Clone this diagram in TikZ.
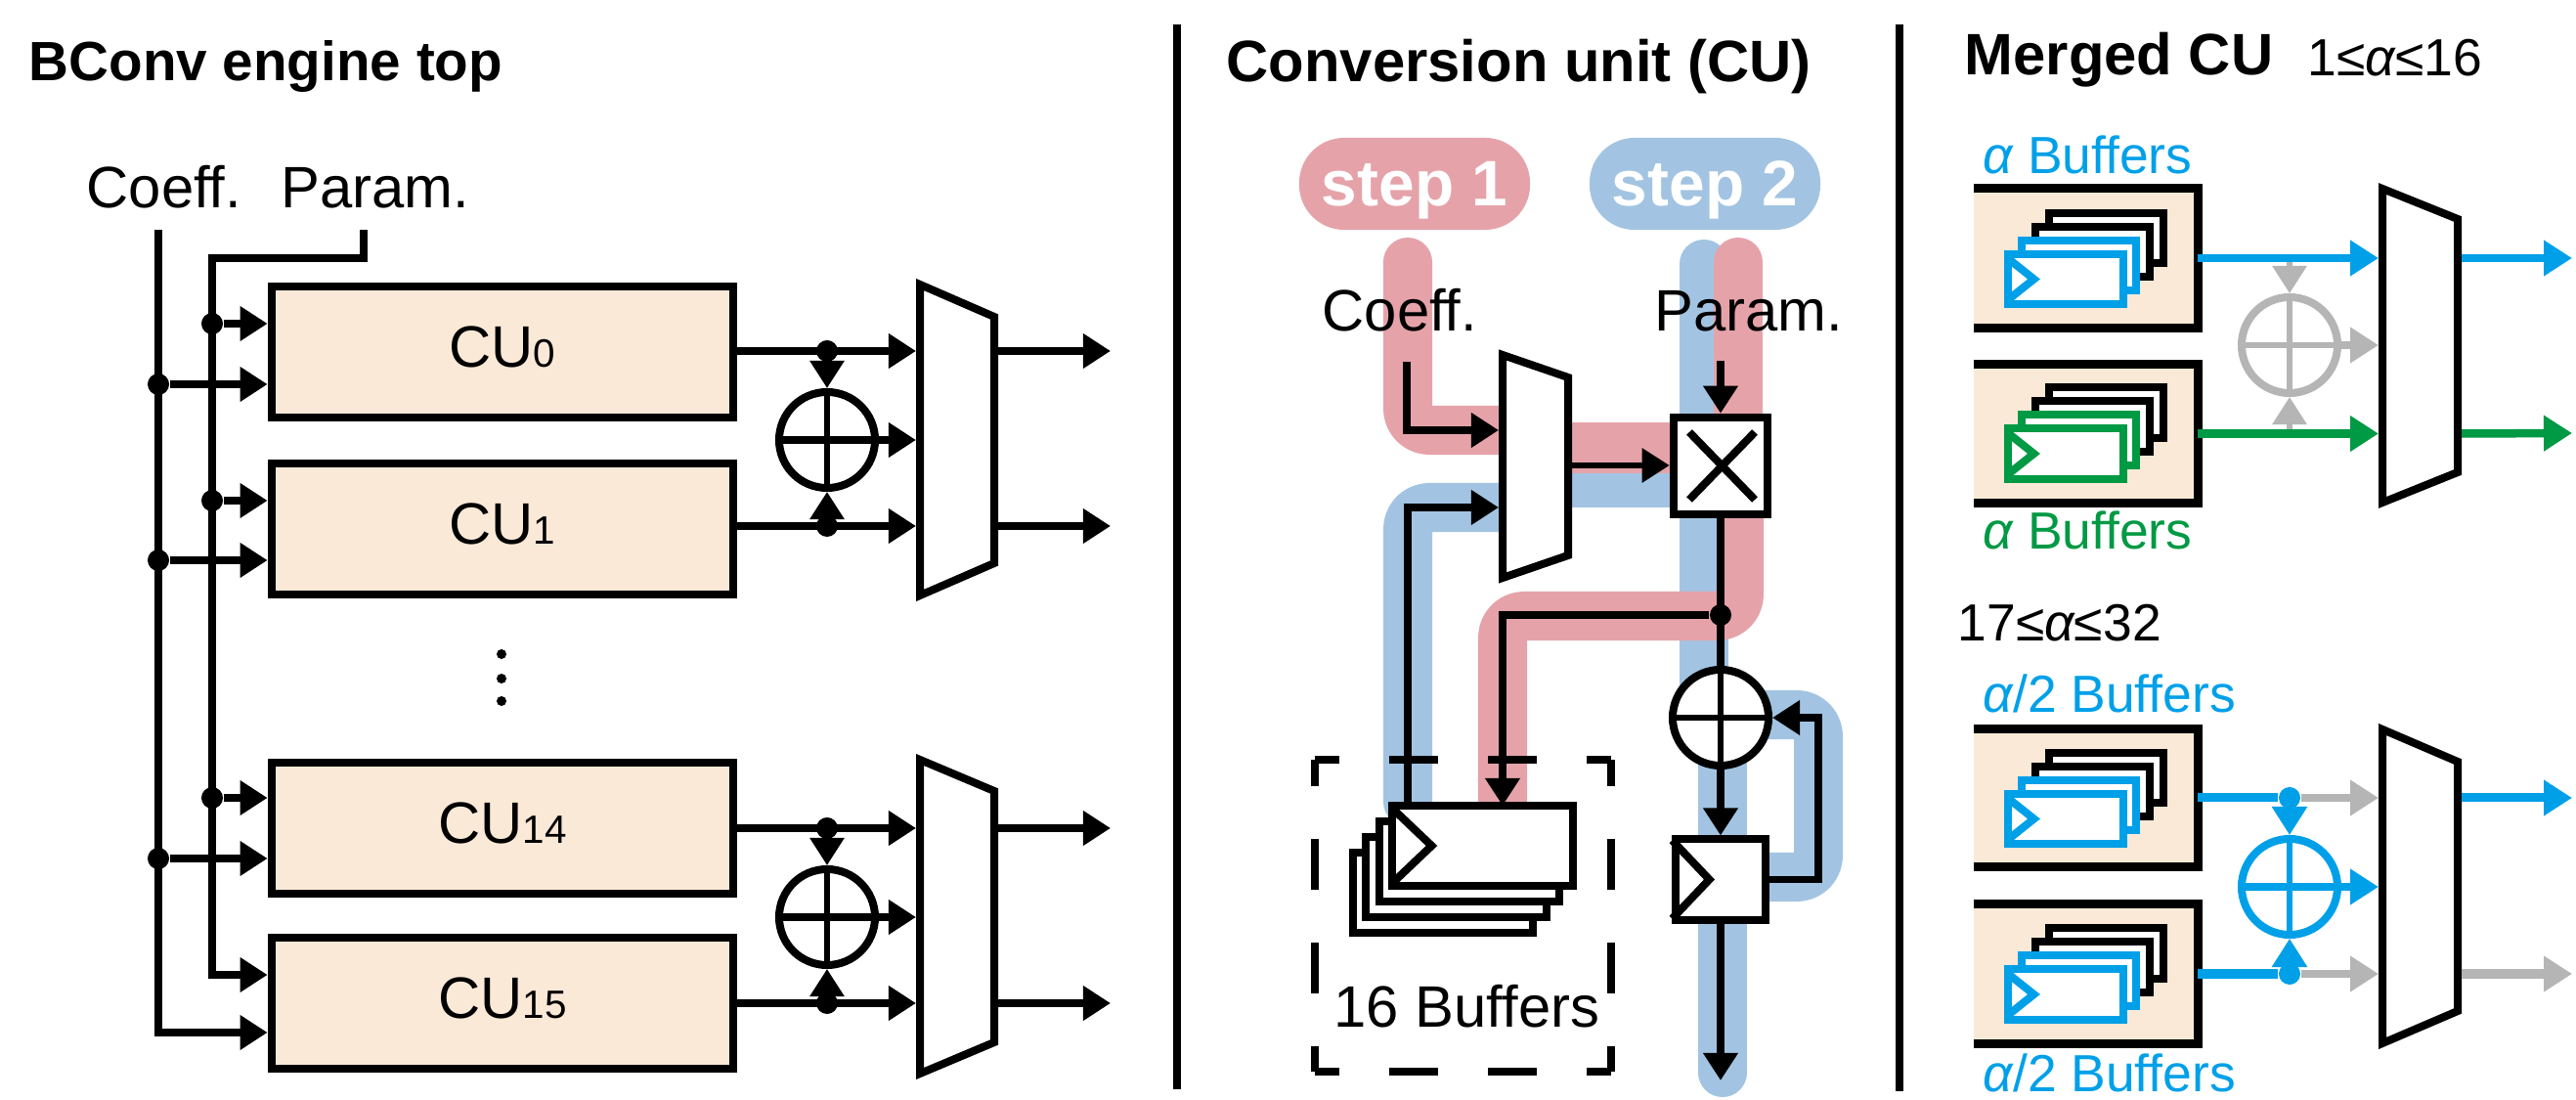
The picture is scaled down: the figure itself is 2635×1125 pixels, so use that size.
\documentclass[tikz,border=0pt]{standalone}
\usepackage{fontspec}
\setmainfont{Liberation Sans}
\usetikzlibrary{arrows.meta,calc}
\definecolor{cream}{HTML}{FBE9D7}
\definecolor{hlpink}{HTML}{E5A3A9}
\definecolor{hlblue}{HTML}{A2C4E2}
\definecolor{cyanx}{HTML}{00A0E9}
\definecolor{greenx}{HTML}{009944}
\definecolor{grayx}{HTML}{B5B5B5}
\newcommand{\cusub}[1]{{\fontsize{11.5}{12}\selectfont #1}}
\newcommand{\muxdraw}[6]{%
  \pgfmathsetmacro\mw{(#3-#2)*0.01}%
  \pgfmathsetmacro\mh{(#5-#4)*0.01}%
  \node[muxn,minimum width=\mw cm,minimum height=\mh cm] (#1) at ({(#2+#3)/2},{(#4+#5)/2}) {};
  \draw[muxline] (#2,#4) -- (#3,{#4+#6}) -- (#3,{#5-#6}) -- (#2,#5) -- cycle;
}
\newcommand{\bufstack}[9]{%
  \node[buf,draw=#8,minimum width=#4,minimum height=#5] (#1d) at ({#2+3*(#6)},{#3+3*(#7)}) {};
  \node[buf,draw=#8,minimum width=#4,minimum height=#5] (#1c) at ({#2+2*(#6)},{#3+2*(#7)}) {};
  \node[buf,draw=#9,minimum width=#4,minimum height=#5] (#1b) at ({#2+#6},{#3+#7}) {};
  \node[buf,draw=#9,minimum width=#4,minimum height=#5] (#1a) at (#2,#3) {};
}
\newcommand{\clocktri}[4]{%
  \draw[#2,line width=0.08cm] ($(#1.north west)+(0,#4)$) -- ($(#1.west)+(#3,0)$) -- ($(#1.south west)+(0,-#4)$);
}
\tikzset{
  x=0.01cm,y=-0.01cm,
  wire/.style={line width=0.075cm,draw=black},
  thinw/.style={line width=0.06cm,draw=black},
  arw/.style={-{Triangle[length=0.28cm,width=0.34cm]}},
  arwb/.style={-{Triangle[length=0.29cm,width=0.35cm]}},
  cubox/.style={draw=black,fill=cream,line width=0.085cm,minimum width=4.72cm,minimum height=1.34cm,inner sep=0pt,text height=0.3cm,text depth=0pt,font=\fontsize{17}{20}\selectfont},
  lab/.style={inner sep=0pt,anchor=base west,font=\fontsize{17}{20}\selectfont},
  boldlab/.style={inner sep=0pt,anchor=base west,font=\fontsize{17}{20}\selectfont\bfseries},
  alab/.style={inner sep=0pt,anchor=base west,font=\fontsize{15.2}{18}\selectfont},
  jdot/.style={circle,fill=black,inner sep=0pt,minimum size=0.22cm},
  vdot/.style={circle,fill=black,inner sep=0pt,minimum size=0.1cm},
  addn/.style={circle,draw=black,fill=white,line width=0.08cm,minimum size=0.98cm,inner sep=0pt},
  muxn/.style={inner sep=0pt,outer xsep=0.04cm,outer ysep=0pt},
  muxline/.style={draw=black,fill=white,line width=0.08cm},
  buf/.style={fill=white,line width=0.08cm,inner sep=0pt,outer sep=0pt},
  pill/.style={rounded corners=0.46cm,inner sep=0pt,minimum width=2.36cm,minimum height=0.94cm,text=white,text height=0.44cm,text depth=0pt,font=\fontsize{18.7}{20}\selectfont\bfseries},
  band/.style={line width=0.5cm,line join=round,rounded corners=0.22cm},
  rbox/.style={fill=cream,inner sep=0pt,outer sep=0pt,minimum width=2.29cm},
  rline/.style={draw=black,line width=0.09cm},
  sep/.style={draw=black,line width=0.075cm},
}
\begin{document}
\begin{tikzpicture}
\useasboundingbox (0,0) rectangle (2635,1125);
\fill[white] (0,0) rectangle (2635,1125);

%% ---------- separators
\coordinate (s1t) at (1204,25); \coordinate (s1b) at (1204,1114);
\coordinate (s2t) at (1943,25); \coordinate (s2b) at (1943,1116);
\draw[sep] (s1t) -- (s1b);
\draw[sep] (s2t) -- (s2b);

%% ---------- left panel
\node[boldlab,font=\fontsize{16.1}{20}\selectfont\bfseries] (t1) at (29,83) {BConv engine top};
\node[lab] (lc) at (88,213) {Coeff.};
\node[lab] (lp) at (287,213) {Param.};

\node[cubox] (cu0) at (514,360) {CU\cusub{0}};
\node[cubox] (cu1) at (514,541) {CU\cusub{1}};
\node[cubox] (cu14) at (514,847) {CU\cusub{14}};
\node[cubox] (cu15) at (514,1026) {CU\cusub{15}};

\node[vdot] (v1) at (513,669) {};
\node[vdot] (v2) at (513,694) {};
\node[vdot] (v3) at (513,717) {};

\coordinate (ctop) at (162,235);
\coordinate (ptop) at (372,235);
\coordinate (pk) at (372,264);
\coordinate (pk2) at (217,264);
\coordinate (c15) at (162,1056);
\coordinate (p15) at (217,997);
\draw[wire,arw] (ctop) -- (c15) -- (c15 -| cu15.west);
\draw[wire,arw] (ptop) -- (pk) -- (pk2) -- (p15) -- (p15 -| cu15.west);

\node[jdot] (p0) at (217,331) {};
\node[jdot] (c0) at (162,393) {};
\node[jdot] (p1) at (217,512) {};
\node[jdot] (c1) at (162,573) {};
\node[jdot] (p14) at (217,816) {};
\node[jdot] (c14) at (162,878) {};
\draw[wire,arw] (p0) -- (p0 -| cu0.west);
\draw[wire,arw] (c0) -- (c0 -| cu0.west);
\draw[wire,arw] (p1) -- (p1 -| cu1.west);
\draw[wire,arw] (c1) -- (c1 -| cu1.west);
\draw[wire,arw] (p14) -- (p14 -| cu14.west);
\draw[wire,arw] (c14) -- (c14 -| cu14.west);

\muxdraw{mxa}{941}{1017}{291}{609}{33}
\muxdraw{mxb}{941}{1017}{777}{1098}{32}

\node[addn] (ada) at (846,450) {};
\node[addn] (adb) at (846,938) {};
\draw[thinw] (ada.north) -- (ada.south);
\draw[thinw] (adb.north) -- (adb.south);

\coordinate (oa0) at (1136,359);
\coordinate (oa1) at (1136,538);
\coordinate (ob0) at (1136,847);
\coordinate (ob1) at (1136,1026);
\coordinate (ma0) at (846,359);
\coordinate (ma1) at (846,538);
\coordinate (mb0) at (846,847);
\coordinate (mb1) at (846,1026);
\node[jdot] (ja0) at (ma0) {};
\node[jdot] (ja1) at (ma1) {};
\node[jdot] (jb0) at (mb0) {};
\node[jdot] (jb1) at (mb1) {};
\draw[wire,arw] (ma0 -| cu0.east) -- (ma0 -| mxa.west);
\draw[wire,arw] (ma1 -| cu1.east) -- (ma1 -| mxa.west);
\draw[wire,arw] (mb0 -| cu14.east) -- (mb0 -| mxb.west);
\draw[wire,arw] (mb1 -| cu15.east) -- (mb1 -| mxb.west);
\draw[thinw,arw] (ja0) -- (ada.north);
\draw[thinw,arw] (ja1) -- (ada.south);
\draw[thinw,arw] (jb0) -- (adb.north);
\draw[thinw,arw] (jb1) -- (adb.south);
\draw[wire,arw] (ada.west) -- (ada.west -| mxa.west);
\draw[wire,arw] (adb.west) -- (adb.west -| mxb.west);
\draw[wire,arw] (oa0 -| mxa.east) -- (oa0);
\draw[wire,arw] (oa1 -| mxa.east) -- (oa1);
\draw[wire,arw] (ob0 -| mxb.east) -- (ob0);
\draw[wire,arw] (ob1 -| mxb.east) -- (ob1);

%% ---------- centre panel
\node[boldlab] (t2) at (1254,84) {Conversion unit (CU)};
\node[pill,fill=hlpink] (st1) at (1447,188) {step 1};
\node[pill,fill=hlblue] (st2) at (1744,188) {step 2};

% highlight bands
\draw[band,draw=hlblue,line cap=round] (1440,820) -- (1440,519) -- (1540,519);
\draw[band,draw=hlblue,line cap=round] (1743,270) -- (1743,720);
\draw[band,draw=hlblue,line cap=round] (1762,760) -- (1762,1097);
\draw[band,draw=hlblue] (1800,731) -- (1860,731) -- (1860,897) -- (1800,897);
\fill[hlblue] (1600,484) rectangle (1715,519);
\draw[band,draw=hlpink,line cap=round] (1440,268) -- (1440,440) -- (1540,440);
\draw[band,draw=hlpink,line cap=round] (1778,268) -- (1778,440);
\fill[hlpink] (1600,432) rectangle (1715,484);
\draw[band,draw=hlpink] (1779,525) -- (1779,630) -- (1537,630) -- (1537,820);
\fill[hlblue] (1718,530) rectangle (1762,604);

\node[lab] (lc2) at (1352,339) {Coeff.};
\node[lab] (lp2) at (1692,339) {Param.};

\muxdraw{mxc}{1537}{1604}{363}{591}{23}
\node[draw=black,fill=white,line width=0.085cm,minimum width=0.96cm,minimum height=0.99cm,inner sep=0pt] (mul) at (1760,476.5) {};
\coordinate (x1) at (1728,442); \coordinate (x2) at (1795,511);
\coordinate (x3) at (1728,511); \coordinate (x4) at (1795,442);
\draw[line width=0.08cm] (x1) -- (x2);
\draw[line width=0.08cm] (x3) -- (x4);

\coordinate (ci) at (1439,370);
\coordinate (cik) at (1439,440);
\coordinate (pi) at (1760,369);
\coordinate (bk) at (1440,519);
\draw[wire,arw] (ci) -- (cik) -- (cik -| mxc.west);
\draw[thinw,arw] (mxc.east |- 0,476) -- (mul.west |- 0,476);
\draw[wire,arw] (pi) -- (pi |- mul.north);

\bufstack{cs}{1516.5}{865}{1.84cm}{0.82cm}{-13.5}{16}{black}{black}
\clocktri{csa}{black}{40}{3}

\node[inner sep=0pt,outer sep=0pt,minimum width=3.03cm,minimum height=3.19cm] (dbox) at (1496.5,936.5) {};
\begin{scope}[line width=0.08cm]
\draw[dash pattern=on 0.5cm off 0.51cm,dash phase=0.25cm] (dbox.north west) -- (dbox.north east);
\draw[dash pattern=on 0.5cm off 0.51cm,dash phase=0.25cm] (dbox.south west) -- (dbox.south east);
\draw[dash pattern=on 0.52cm off 0.54cm,dash phase=0.25cm] (dbox.north west) -- (dbox.south west);
\draw[dash pattern=on 0.52cm off 0.54cm,dash phase=0.25cm] (dbox.north east) -- (dbox.south east);
\end{scope}
\node[lab] (l16) at (1364,1051) {16 Buffers};

\draw[wire,arw] (bk |- csa.north) -- (bk) -- (bk -| mxc.west);

\node[addn] (adc) at (1760,734) {};
\draw[thinw] (adc.north) -- (adc.south);
\draw[thinw] (adc.west) -- (adc.east);
\node[jdot] (jc) at (1760,629) {};
\node[draw=black,fill=white,line width=0.08cm,minimum width=0.91cm,minimum height=0.82cm,inner sep=0pt] (ff) at (1760,899.5) {};
\clocktri{ff}{black}{38}{5}
\coordinate (bt) at (1537,629);
\coordinate (fb) at (1860,734);
\coordinate (oc) at (1760,1105);
\draw[wire] (mul.south) -- (adc.north);
\draw[wire,arw] (jc) -- (bt) -- (bt |- csa.north);
\draw[wire,arw] (adc.south) -- (ff.north);
\draw[wire,arw] (ff.east) -| (fb) -- (adc.east);
\draw[wire,arw] (ff.south) -- (oc);

%% ---------- right panel
\node[boldlab] (t3) at (2009,77) {Merged CU};
\node[alab] (a1) at (2360,78) {1≤{\itshape α}≤16};
\node[alab,text=cyanx] (a2) at (2028,178) {{\itshape α} Buffers};
\node[alab,text=greenx] (a3) at (2028,562) {{\itshape α} Buffers};
\node[alab] (a4) at (2002,656) {17≤{\itshape α}≤32};
\node[alab,text=cyanx] (a5) at (2028,729) {{\itshape α}/2 Buffers};
\node[alab,text=cyanx] (a6) at (2028,1117) {{\itshape α}/2 Buffers};

\node[rbox,minimum height=1.43cm] (rb1) at (2133.5,264) {};
\node[rbox,minimum height=1.41cm] (rb2) at (2133.5,443.5) {};
\node[rbox,minimum height=1.40cm] (rb3) at (2133.5,816) {};
\node[rbox,minimum height=1.42cm] (rb4) at (2133.5,996) {};
\foreach \b in {rb1,rb2,rb3,rb4}{
  \draw[rline] (\b.north west) -- (\b.north east) -- (\b.south east) -- (\b.south west);
}
\bufstack{ra}{2113}{285.5}{1.17cm}{0.515cm}{13.7}{-14}{black}{cyanx}
\clocktri{raa}{cyanx}{26}{5}
\bufstack{rc}{2113}{464}{1.17cm}{0.515cm}{13.7}{-14}{black}{greenx}
\clocktri{rca}{greenx}{26}{5}
\bufstack{re}{2113}{837.5}{1.17cm}{0.515cm}{13.7}{-14}{black}{cyanx}
\clocktri{rea}{cyanx}{26}{5}
\bufstack{rg}{2113}{1017}{1.17cm}{0.515cm}{13.7}{-14}{black}{cyanx}
\clocktri{rga}{cyanx}{26}{5}

\muxdraw{mxd}{2437}{2514}{193}{514}{31}
\muxdraw{mxe}{2437}{2514}{746}{1067}{33}

\coordinate (ro1) at (2631,264);
\coordinate (ro2) at (2631,443);
\coordinate (ro3) at (2631,816);
\coordinate (ro4) at (2631,996);

% upper, grey adder
\node[addn,draw=grayx] (adg) at (2342,353) {};
\draw[thinw,draw=grayx] (adg.north) -- (adg.south);
\coordinate (g1) at (2342,264);
\coordinate (g2) at (2342,443);
\draw[thinw,draw=grayx,arw,grayx] (g1) -- (adg.north);
\draw[thinw,draw=grayx,arw,grayx] (g2) -- (adg.south);
\draw[thinw,draw=grayx] (adg.west) -- (adg.east);
\draw[wire,draw=grayx,arwb,grayx] (adg.east) -- (adg.east -| mxd.west);
\draw[wire,draw=cyanx,line width=0.085cm,arwb,cyanx] (rb1.east) -- (rb1.east -| mxd.west);
\draw[wire,draw=greenx,line width=0.085cm,arwb,greenx] (rb2.east) -- (rb2.east -| mxd.west);
\draw[wire,draw=cyanx,line width=0.085cm,arwb,cyanx] (rb1.east -| mxd.east) -- (ro1);
\draw[wire,draw=greenx,line width=0.085cm,arwb,greenx] (rb2.east -| mxd.east) -- (ro2);

% lower, cyan adder
\node[addn,draw=cyanx] (adl) at (2342,907) {};
\draw[thinw,draw=cyanx] (adl.north) -- (adl.south);
\node[jdot,fill=cyanx] (jl1) at (2342,816) {};
\node[jdot,fill=cyanx] (jl2) at (2342,996) {};
\draw[wire,draw=grayx,line width=0.085cm,arwb,grayx] (jl1) -- (jl1 -| mxe.west);
\draw[wire,draw=grayx,line width=0.085cm,arwb,grayx] (jl2) -- (jl2 -| mxe.west);
\draw[wire,draw=cyanx,line width=0.09cm] (rb3.east) -- (jl1);
\draw[wire,draw=cyanx,line width=0.09cm] (rb4.east) -- (jl2);
\draw[thinw,draw=cyanx,arwb,cyanx] (jl1) -- (adl.north);
\draw[thinw,draw=cyanx,arwb,cyanx] (jl2) -- (adl.south);
\draw[wire,draw=cyanx,line width=0.085cm,arwb,cyanx] (adl.west) -- (adl.west -| mxe.west);
\draw[wire,draw=cyanx,line width=0.09cm,arwb,cyanx] (jl1 -| mxe.east) -- (ro3);
\draw[wire,draw=grayx,line width=0.09cm,arwb,grayx] (jl2 -| mxe.east) -- (ro4);
\end{tikzpicture}
\end{document}
